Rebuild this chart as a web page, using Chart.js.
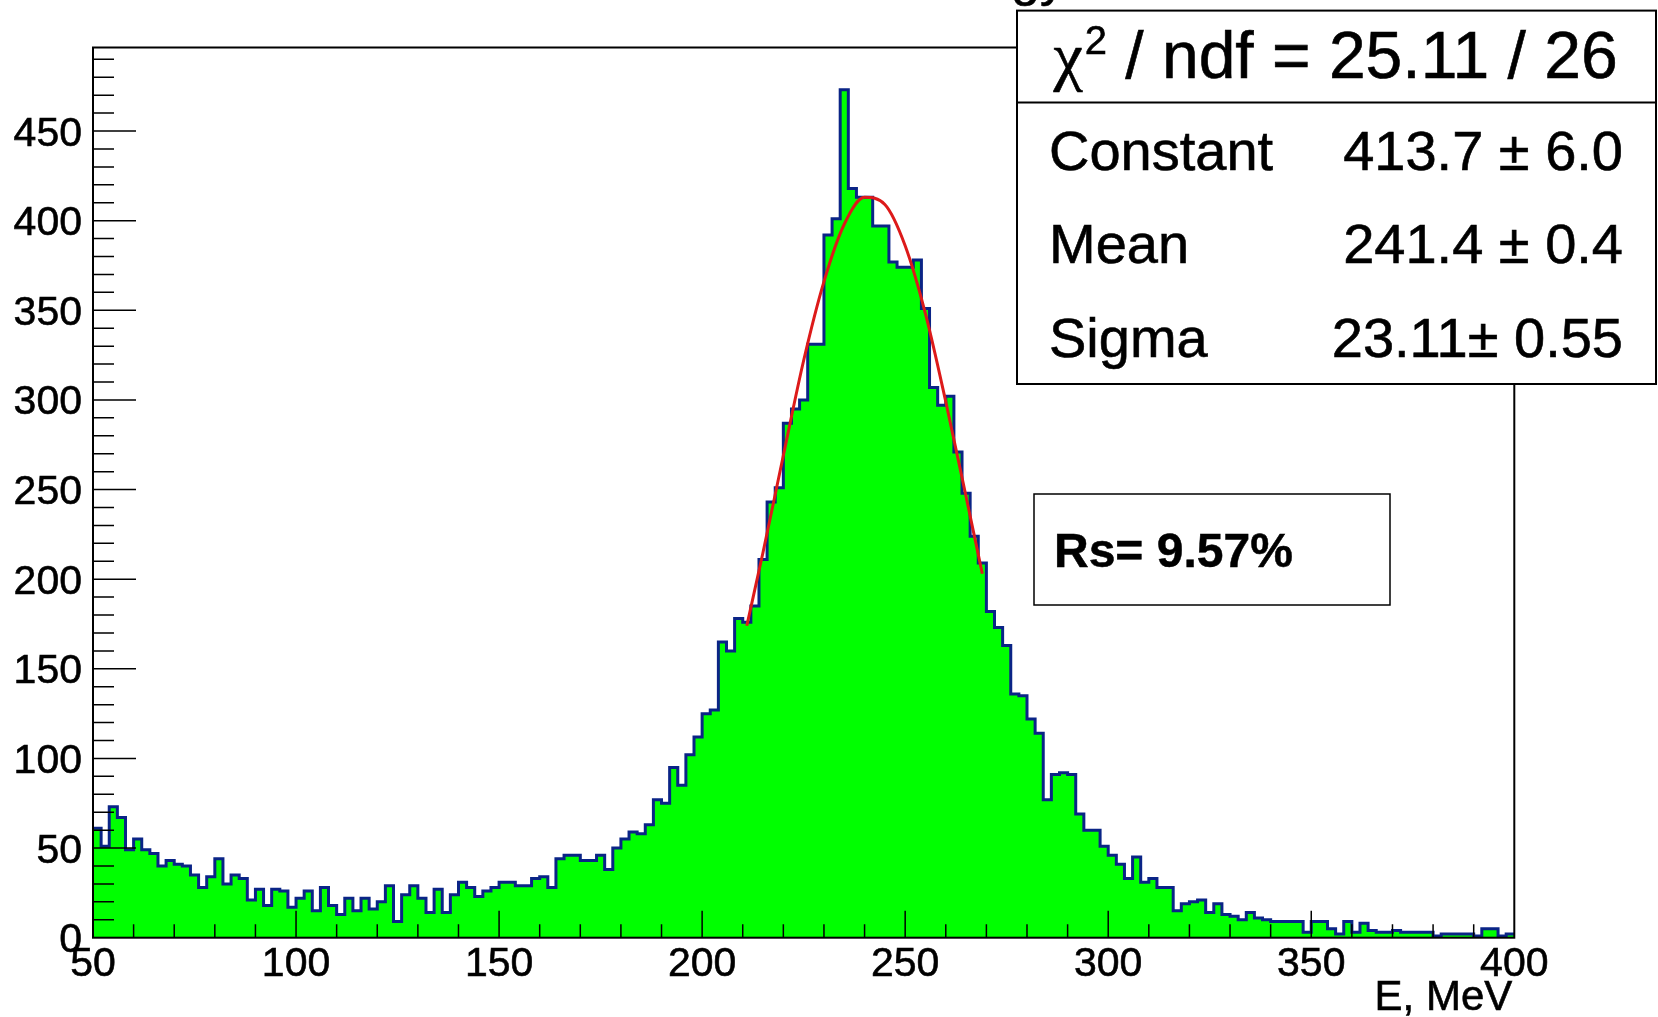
<!DOCTYPE html>
<html>
<head>
<meta charset="utf-8">
<title>Energy spectrum</title>
<script src="https://cdn.jsdelivr.net/npm/chart.js@4.4.1/dist/chart.umd.min.js"></script>
<style>
  html, body { margin: 0; padding: 0; background: #fff; }
</style>
</head>
<body>
<canvas id="energyChart" width="1658" height="1017"></canvas>
<script>
// histogram: 2 MeV bins from 50 to 400 MeV, counts
const binLow = 50;
const binWidth = 2;
const counts = [
  61, 51, 73, 67, 49, 55, 49, 47, 40, 43,
  41, 40, 35, 28, 34, 44, 30, 35, 33, 21,
  27, 18, 27, 26, 17, 22, 26, 15, 28, 18,
  13, 22, 15, 22, 16, 20, 29, 9, 24, 29,
  22, 14, 27, 14, 24, 31, 28, 23, 26, 28,
  31, 31, 29, 29, 33, 34, 28, 44, 46, 46,
  43, 43, 46, 38, 50, 55, 59, 58, 63, 77,
  75, 95, 85, 102, 112, 125, 127, 165, 160, 178,
  176, 185, 211, 243, 251, 287, 295, 300, 331, 331,
  392, 401, 473, 418, 413, 413, 397, 397, 377, 374,
  374, 378, 351, 307, 297, 302, 271, 248, 224, 209,
  182, 173, 163, 136, 135, 122, 114, 77, 91, 92,
  91, 69, 60, 60, 51, 46, 41, 33, 45, 31,
  33, 28, 28, 15, 19, 20, 21, 14, 19, 13,
  12, 10, 14, 11, 10, 9, 9, 9, 9, 3,
  9, 9, 5, 2, 9, 3, 8, 4, 3, 3,
  4, 3, 3, 3, 3, 1, 2, 2, 2, 2,
  1, 5, 5, 1, 2
];

// red gaussian fit curve
const fitE = [211, 215, 220, 225, 230, 235, 240, 245, 250, 255, 260, 265, 269];
const fitY = [174, 215, 269, 322, 366, 398, 413, 409, 386, 348, 299, 246, 203];

const xTickLabels = ['50', '100', '150', '200', '250', '300', '350', '400'];
const yTickLabels = ['0', '50', '100', '150', '200', '250', '300', '350', '400', '450'];

const titleText = 'energy';
const xTitle = 'E, MeV';
const chiText = ' / ndf = 25.11 / 26';
const statNames = ['Constant', 'Mean', 'Sigma'];
const statValues = ['413.7 \u00b1 6.0', '241.4 \u00b1 0.4', '23.11\u00b1 0.55'];
const rsText = 'Rs= 9.57%';

const FONT = "'Liberation Sans', Arial, Helvetica, sans-serif";

const histPoints = counts.map((c, i) => ({ x: binLow + i * binWidth, y: c }));
histPoints.push({ x: binLow + counts.length * binWidth, y: counts[counts.length - 1] });
const fitPoints = fitE.map((e, i) => ({ x: e, y: fitY[i] }));

// text a bit heavier, like the scanned ROOT output
function text(ctx, s, x, y) {
  ctx.fillText(s, x, y);
  ctx.strokeText(s, x, y);
}

// ROOT style frame, ticks, labels and the two text boxes
const rootDecor = {
  id: 'rootDecor',
  afterDatasetsDraw(chart) {
    const { ctx, chartArea: a, scales: { x, y } } = chart;
    ctx.save();
    ctx.strokeStyle = '#000';
    ctx.lineWidth = 1.5;
    ctx.beginPath();
    for (let v = 10; v < y.max; v += 10) {
      const py = y.getPixelForValue(v);
      const len = v % 50 === 0 ? 43 : 21;
      ctx.moveTo(a.left, py);
      ctx.lineTo(a.left + len, py);
    }
    for (let v = x.min + 10; v < x.max; v += 10) {
      const px = x.getPixelForValue(v);
      const len = v % 50 === 0 ? 27 : 13.5;
      ctx.moveTo(px, a.bottom);
      ctx.lineTo(px, a.bottom - len);
    }
    ctx.stroke();
    ctx.lineWidth = 2;
    ctx.strokeRect(a.left, a.top, a.right - a.left, a.bottom - a.top);
    ctx.restore();
  },
  afterDraw(chart) {
    const { ctx, chartArea: a, scales: { x, y } } = chart;
    ctx.save();
    ctx.fillStyle = '#000';
    ctx.strokeStyle = '#000';
    ctx.lineWidth = 0.6;
    ctx.textBaseline = 'alphabetic';

    // title sits above the canvas, only its descenders show
    ctx.font = `52px ${FONT}`;
    ctx.textAlign = 'right';
    text(ctx, titleText, 1066, -5);

    // tick labels
    ctx.font = `41px ${FONT}`;
    ctx.textAlign = 'right';
    yTickLabels.forEach(t => text(ctx, t, a.left - 11, y.getPixelForValue(+t) + 14.5));
    ctx.textAlign = 'center';
    xTickLabels.forEach(t => text(ctx, t, x.getPixelForValue(+t), a.bottom + 38));

    ctx.font = `42px ${FONT}`;
    ctx.textAlign = 'right';
    text(ctx, xTitle, a.right - 2, 1010);

    // stats box
    const bl = 1017, bt = 10.6, br = 1656, bb = 384, bd = 102.6;
    ctx.fillStyle = '#fff';
    ctx.fillRect(bl, bt, br - bl, bb - bt);
    ctx.lineWidth = 2;
    ctx.strokeRect(bl, bt, br - bl, bb - bt);
    ctx.beginPath();
    ctx.moveTo(bl, bd);
    ctx.lineTo(br, bd);
    ctx.stroke();

    ctx.fillStyle = '#000';
    ctx.lineWidth = 0.6;
    ctx.textAlign = 'left';
    const big = 66, sup = 40;
    ctx.font = `${big}px 'Liberation Serif', serif`;
    const wChi = ctx.measureText('\u03c7').width;
    ctx.font = `${big}px ${FONT}`;
    const wRest = ctx.measureText(chiText).width;
    ctx.font = `${sup}px ${FONT}`;
    const wSup = ctx.measureText('2').width;
    let cx = (bl + br) / 2 - (wChi + wSup + wRest) / 2 - 2;
    const chiBase = 78;
    ctx.font = `${big}px 'Liberation Serif', serif`;
    text(ctx, '\u03c7', cx, chiBase);
    cx += wChi + 2;
    ctx.font = `${sup}px ${FONT}`;
    text(ctx, '2', cx, chiBase - 24);
    cx += wSup;
    ctx.font = `${big}px ${FONT}`;
    text(ctx, chiText, cx, chiBase);

    ctx.font = `56px ${FONT}`;
    const rowH = (bb - bd) / statNames.length;
    statNames.forEach((n, i) => {
      const base = bd + rowH * (i + 0.5) + 20;
      ctx.textAlign = 'left';
      text(ctx, n, 1049, base);
      ctx.textAlign = 'right';
      text(ctx, statValues[i], 1623, base);
    });

    // resolution box
    const rl = 1034, rt = 494, rr = 1390, rb = 605;
    ctx.fillStyle = '#fff';
    ctx.fillRect(rl, rt, rr - rl, rb - rt);
    ctx.lineWidth = 1.5;
    ctx.strokeRect(rl, rt, rr - rl, rb - rt);
    ctx.fillStyle = '#000';
    ctx.lineWidth = 0.5;
    ctx.textAlign = 'left';
    ctx.font = `bold 48px ${FONT}`;
    text(ctx, rsText, 1054, 567);
    ctx.restore();
  }
};

const ctx = document.getElementById('energyChart').getContext('2d');

const chart = new Chart(ctx, {
  type: 'line',
  data: {
    datasets: [{
      label: 'counts',
      data: histPoints,
      stepped: true,
      fill: 'origin',
      backgroundColor: '#00ff00',
      borderColor: '#0a2486',
      borderWidth: 3,
      pointRadius: 0,
      order: 2
    }, {
      label: 'gaus fit',
      data: fitPoints,
      fill: false,
      borderColor: '#dd1a1a',
      borderWidth: 3,
      cubicInterpolationMode: 'monotone',
      pointRadius: 0,
      order: 1
    }]
  },
  options: {
    responsive: false,
    animation: false,
    devicePixelRatio: 1,
    layout: {
      padding: { left: 93, right: 143.7, top: 47.5, bottom: 79.3 }
    },
    plugins: {
      legend: { display: false },
      tooltip: { enabled: false }
    },
    scales: {
      x: { type: 'linear', min: 50, max: 400, display: false },
      y: { type: 'linear', min: 0, max: 496.6, display: false }
    }
  },
  plugins: [rootDecor]
});
</script>
</body>
</html>
